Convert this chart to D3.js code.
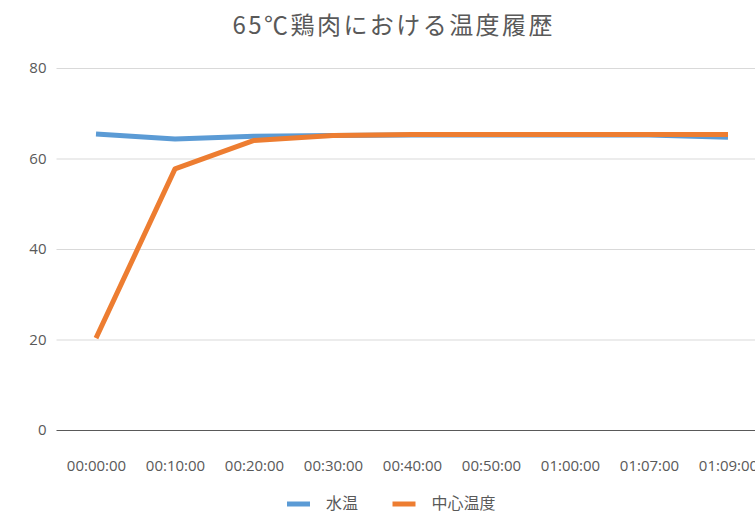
<!DOCTYPE html>
<html>
<head>
<meta charset="utf-8">
<script src="https://cdn.jsdelivr.net/npm/d3@7"></script>
<style>
  html, body { margin: 0; padding: 0; background: #fff; overflow: hidden; }
  svg { display: block; }
</style>
</head>
<body>
<svg id="chart" width="755" height="513"></svg>
<script>
// Sampling times and temperatures (°C)
const times = ["00:00:00", "00:10:00", "00:20:00", "00:30:00", "00:40:00", "00:50:00", "01:00:00", "01:07:00", "01:09:00"];
const waterTemp = [65.4, 64.3, 64.9, 65.1, 65.2, 65.2, 65.2, 65.2, 64.7];
const coreTemp = [20.3, 57.7, 64.0, 65.1, 65.3, 65.3, 65.3, 65.3, 65.3];
const yTicks = [0, 20, 40, 60, 80];
const seriesNames = ["水温", "中心温度"];
const seriesColors = ["#5B9BD5", "#ED7D31"];

const svg = d3.select("#chart");
const textColor = "#595959";
const cjkFont = "'Noto Sans CJK JP', 'Noto Sans', sans-serif";
const latinFont = "'Open Sans', 'Noto Sans', sans-serif";

const plot = { left: 56.5, right: 767.5, top: 68, bottom: 430 };

const x = d3.scalePoint().domain(times).range([plot.left, plot.right]).padding(0.5);
const y = d3.scaleLinear().domain([0, 80]).range([plot.bottom, plot.top]);

// Title
svg.append("text")
  .attr("x", 392.5).attr("y", 34)
  .attr("text-anchor", "middle")
  .attr("font-family", cjkFont)
  .attr("font-size", 24)
  .attr("fill", textColor)
  .attr("textLength", 320)
  .attr("lengthAdjust", "spacing")
  .text("65℃鶏肉における温度履歴");

// Horizontal gridlines and value labels
const yAxis = d3.axisLeft(y).tickValues(yTicks).tickSize(0).tickPadding(10);
const gy = svg.append("g").attr("transform", `translate(${plot.left},0)`).call(yAxis);
gy.select(".domain").remove();
gy.selectAll(".tick text")
  .attr("font-family", latinFont)
  .attr("font-size", 15)
  .attr("fill", textColor);
gy.selectAll(".tick line")
  .attr("x2", plot.right - plot.left)
  .attr("stroke", d => d === 0 ? "#595959" : "#d9d9d9")
  .attr("stroke-width", 1);

// Category labels
const xAxis = d3.axisBottom(x).tickSize(0).tickPadding(30);
const gx = svg.append("g").attr("transform", `translate(0,${plot.bottom})`).call(xAxis);
gx.select(".domain").remove();
gx.selectAll(".tick text")
  .attr("font-family", latinFont)
  .attr("font-size", 15)
  .attr("fill", textColor);

// Series lines
const series = [waterTemp, coreTemp];
const line = d3.line().x((d, i) => x(times[i])).y(d => y(d));
series.forEach((vals, k) => {
  svg.append("path")
    .datum(vals)
    .attr("d", line)
    .attr("fill", "none")
    .attr("stroke", seriesColors[k])
    .attr("stroke-width", 5)
    .attr("stroke-linejoin", "round");
});

// Legend
const legendItems = [
  { name: seriesNames[0], color: seriesColors[0], x: 287 },
  { name: seriesNames[1], color: seriesColors[1], x: 392.5 }
];
const lg = svg.append("g");
legendItems.forEach(it => {
  lg.append("line")
    .attr("x1", it.x).attr("x2", it.x + 23)
    .attr("y1", 504).attr("y2", 504)
    .attr("stroke", it.color).attr("stroke-width", 5);
  lg.append("text")
    .attr("x", it.x + 39).attr("y", 508.5)
    .attr("font-family", cjkFont)
    .attr("font-size", 16)
    .attr("fill", textColor)
    .text(it.name);
});
</script>
</body>
</html>
